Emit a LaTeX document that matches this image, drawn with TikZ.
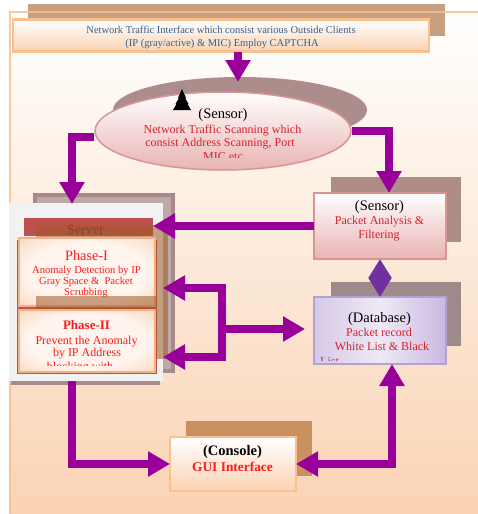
\documentclass[tikz,border=0pt]{standalone}
\usepackage{fontspec}
\setmainfont{Liberation Serif}
\usetikzlibrary{arrows.meta,shapes.geometric,calc}
\definecolor{pu}{HTML}{990099}
\definecolor{vio}{HTML}{7030A0}
\definecolor{frameor}{HTML}{FAC090}
\definecolor{peach}{HTML}{FAD3B3}
\definecolor{topsh}{HTML}{C9A07F}
\definecolor{ellsh}{HTML}{AD8D8B}
\definecolor{pinkb}{HTML}{D99594}
\definecolor{pinkf}{HTML}{E9B3B3}
\definecolor{boxsh}{HTML}{AE8C88}
\definecolor{dbsh}{HTML}{9E8A8A}
\definecolor{lavb}{HTML}{B3A2D0}
\definecolor{lavl}{HTML}{D6C9E8}
\definecolor{lavm}{HTML}{EEE9F5}
\definecolor{lavr}{HTML}{CBB8E0}
\definecolor{srvred}{HTML}{C0504D}
\definecolor{srvgray}{HTML}{F2F2F2}
\definecolor{srvsh}{HTML}{A88A8A}
\definecolor{srvshin}{HTML}{BFA8A8}
\definecolor{phsh}{HTML}{A05A28}
\definecolor{phb}{HTML}{F4B183}
\definecolor{phin}{HTML}{FFF4EE}
\definecolor{phout}{HTML}{F8C096}
\definecolor{consh}{HTML}{C8915F}
\definecolor{bluetxt}{HTML}{365F91}
\definecolor{redtxt}{HTML}{D9202B}
\definecolor{brred}{HTML}{FF1A1A}
\definecolor{srvtxt}{HTML}{5A2E1E}
\pgfdeclareradialshading{phaseshade}{\pgfpoint{0bp}{0bp}}{color(0bp)=(phin); color(22bp)=(phin); color(48bp)=(phout); color(70bp)=(phout)}
\tikzset{
 parrow/.style={draw=pu, line width=7.5pt, -{Triangle[length=22pt,width=24pt]}},
 pboth/.style={draw=pu, line width=7.5pt, {Triangle[length=22pt,width=24pt]}-{Triangle[length=22pt,width=24pt]}},
 vdbl/.style={draw=vio, line width=5pt, {Triangle[length=19pt,width=22pt]}-{Triangle[length=19pt,width=22pt]}},
 box/.style={rectangle, inner sep=0pt, outer sep=0pt},
 lbl/.style={inner sep=0pt, anchor=base, align=center},
 hdr/.style={lbl, font=\fontsize{14.5}{16}\selectfont, text=black},
 body/.style={lbl, font=\fontsize{12}{14}\selectfont, text=redtxt},
 phasebox/.style={box, draw=phb, line width=1.5pt, shading=phaseshade},
}
\begin{document}
\begin{tikzpicture}[x=1pt,y=-1pt]
\useasboundingbox (0,0) rectangle (478,514);
% background and frame
\shade[top color=white, bottom color=peach] (9,11) rectangle (478,514);
\fill[topsh] (28,4) rectangle (445,36);
\draw[frameor, line width=2pt, opacity=0.85] (10,514) -- (10,12) -- (478,12);
% top box
\node[box, draw=frameor, line width=2.5pt, top color=white, bottom color=peach,
      minimum width=416pt, minimum height=32pt] (topbox) at (221,35.5) {};
\node[lbl, font=\fontsize{10.5}{12}\selectfont, text=bluetxt] (toptxta) at (221,33) {Network Traffic Interface which consist various Outside Clients};
\node[lbl, font=\fontsize{10.5}{12}\selectfont, text=bluetxt] (toptxtb) at (222,46) {(IP (gray/active) \& MIC) Employ CAPTCHA};
% scanning ellipse
\node[ellipse, fill=ellsh, inner sep=0pt, minimum width=254pt, minimum height=66pt] (scanshadow) at (240,110) {};
\node[ellipse, draw=pinkb, line width=1.5pt, top color=white, bottom color=pinkf, inner sep=0pt,
      minimum width=256pt, minimum height=78pt] (scan) at (223,131) {};
\node[hdr] (scanhdr) at (223,118) {(Sensor)};
\node[body] (scantxta) at (222.5,133) {Network Traffic Scanning which};
\node[body] (scantxtb) at (220,146.5) {consist Address Scanning, Port};
\begin{scope}
\clip (0,0) rectangle (478,157.5);
\node[body] (scantxtc) at (223,160.5) {MIC etc};
\end{scope}
\fill[black] (182,89) -- (186,98) -- (185,98) -- (188.5,104) -- (187.5,104) -- (191,110)
   -- (173,110) -- (176.5,104) -- (175.5,104) -- (179,98) -- (178,98) -- cycle;
% analysis box
\fill[boxsh] (331,177) rectangle (461,242);
\node[box, draw=pinkb, line width=2pt, top color=white, bottom color=pinkf,
      minimum width=132pt, minimum height=66pt] (analysis) at (380,226) {};
\node[hdr] (anhdr) at (379.5,210.5) {(Sensor)};
\node[body] (antxta) at (379.5,224.5) {Packet Analysis \&};
\node[body] (antxtb) at (379,238.5) {Filtering};
% database box
\fill[dbsh] (331,282) rectangle (461,346);
\node[box, draw=lavb, line width=2pt, left color=lavl, right color=lavr, middle color=lavm,
      minimum width=132pt, minimum height=67pt] (db) at (380,330.5) {};
\node[hdr] (dbhdr) at (379.5,322.7) {(Database)};
\node[body] (dbtxta) at (379,336.7) {Packet record};
\node[body] (dbtxtb) at (382,350.7) {White List \& Black};
\begin{scope}
\clip (0,0) rectangle (478,360.5);
\node[body, anchor=base west] (dbtxtc) at (320,365) {List};
\end{scope}
% server group
\fill[srvsh] (33,193) rectangle (175,373);
\fill[srvshin] (37,197) rectangle (171,369);
\node[box, fill=srvgray, minimum width=154pt, minimum height=178pt] (server) at (86,292) {};
\fill[srvsh] (11,381) rectangle (160,385);
\node[box, fill=srvred, minimum width=129pt, minimum height=18pt] (serverbar) at (88.5,227) {};
\node[lbl, font=\fontsize{14}{16}\selectfont, text=srvtxt] (srvtxt) at (85.5,234) {Server};
\fill[srvred] (17,240) rectangle (157,374);
\fill[phsh, opacity=0.55] (36,225) rectangle (168,296);
\node[phasebox, minimum width=136pt, minimum height=68pt] (phase1) at (87,272) {};
\node[lbl, font=\fontsize{14.3}{16}\selectfont, text=brred] (ph1hdr) at (86.5,260) {Phase-I};
\node[lbl, font=\fontsize{10.6}{12}\selectfont, text=brred] (ph1a) at (86.5,273.3) {Anomaly Detection by IP};
\node[lbl, font=\fontsize{10.6}{12}\selectfont, text=brred] (ph1b) at (86,284.5) {Gray Space \&\ \ Packet};
\node[lbl, font=\fontsize{10.6}{12}\selectfont, text=brred] (ph1c) at (86,295.7) {Scrubbing};
\fill[phsh, opacity=0.55] (36,296) rectangle (168,359);
\node[phasebox, minimum width=136pt, minimum height=62pt] (phase2) at (87,341) {};
\node[lbl, font=\bfseries\fontsize{13}{15}\selectfont, text=brred] (ph2hdr) at (86.5,329) {Phase-II};
\node[lbl, font=\fontsize{12}{14}\selectfont, text=brred] (ph2a) at (86.5,344) {Prevent the Anomaly};
\node[lbl, font=\fontsize{12}{14}\selectfont, text=brred] (ph2b) at (87,356.7) {by IP Address};
\begin{scope}
\clip (0,0) rectangle (478,365);
\node[lbl, font=\fontsize{12}{14}\selectfont, text=brred] (ph2c) at (80,370.5) {blocking with};
\end{scope}
% console
\fill[consh] (186,421) rectangle (312,476);
\node[box, draw=frameor, line width=2.5pt, top color=white, bottom color=peach,
      minimum width=126pt, minimum height=54pt] (console) at (233,464) {};
\node[lbl, font=\bfseries\fontsize{14.5}{16}\selectfont, text=black] (conhdr) at (232.5,455) {(Console)};
\node[lbl, font=\bfseries\fontsize{13.4}{15}\selectfont, text=brred] (contxt) at (232.5,471) {GUI Interface};
% connector end points
\coordinate (a1end) at (238,82);
\coordinate (srvin) at (72,204);
\coordinate (a3end) at (389,193);
\coordinate (bx) at (222,329);
\coordinate (s1in) at (163,288);
\coordinate (s2in) at (163,357);
\coordinate (dbin) at (305,329);
\coordinate (dbbot) at (392,364);
% connectors
\draw[parrow] (topbox.south -| a1end) -- (a1end);
\draw[parrow] ([yshift=-6pt]scan.west) -| (srvin);
\draw[parrow] (scan.east) -| (a3end);
\draw[parrow] (analysis.west) -- (analysis.west -| serverbar.east);
\draw[vdbl] (analysis.south) -- (db.north);
\draw[parrow] (bx) |- (s1in);
\draw[parrow] (bx) |- (s2in);
\draw[parrow] (bx) -- (dbin);
\draw[parrow] (server.south -| srvin) |- (console.west);
\draw[pboth] (console.east) -| (dbbot);
\end{tikzpicture}
\end{document}
